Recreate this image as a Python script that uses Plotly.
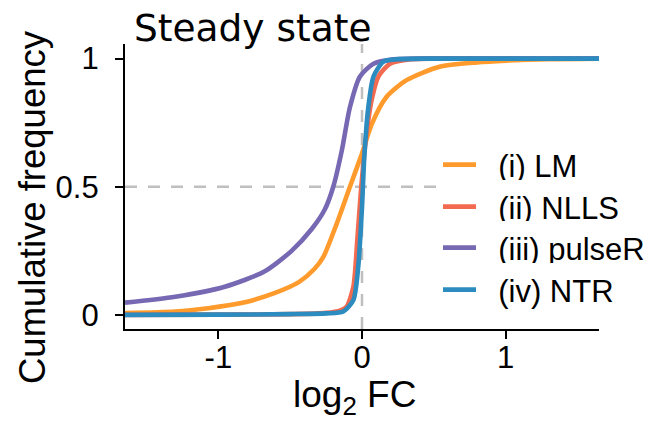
import plotly.graph_objects as go

# ---- data ----
series_names = ["(i) LM", "(ii) NLLS", "(iii) pulseR", "(iv) NTR"]
series_colors = ["#FE9B2C", "#F26A4F", "#7668B2", "#2C8BBF"]

x_lm = [-1.65, -1.3, -1.07, -0.84, -0.61, -0.44, -0.33, -0.27, -0.18, -0.084, 0.0, 0.07, 0.17, 0.31, 0.54, 0.8, 1.0, 1.3, 1.65]
y_lm = [0.007, 0.013, 0.026, 0.046, 0.085, 0.128, 0.18, 0.225, 0.35, 0.5, 0.63, 0.747, 0.85, 0.916, 0.968, 0.985, 0.992, 0.998, 1.0]

x_nlls = [-1.65, -1.0, -0.5, -0.25, -0.15, -0.107, -0.06, -0.033, -0.005, 0.03, 0.067, 0.114, 0.195, 0.34, 0.6, 1.65]
y_nlls = [0.0, 0.001, 0.003, 0.008, 0.018, 0.032, 0.11, 0.29, 0.5, 0.70, 0.838, 0.93, 0.98, 0.998, 1.0, 1.0]

x_pr = [-1.65, -1.3, -0.955, -0.68, -0.49, -0.35, -0.26, -0.2, -0.14, -0.084, -0.014, 0.08, 0.22, 0.5, 1.65]
y_pr = [0.048, 0.071, 0.11, 0.169, 0.25, 0.335, 0.41, 0.5, 0.643, 0.81, 0.93, 0.98, 0.997, 1.0, 1.0]

x_ntr = [-1.65, -1.0, -0.5, -0.25, -0.13, -0.06, -0.026, 0.0, 0.016, 0.044, 0.08, 0.15, 0.26, 0.5, 1.65]
y_ntr = [0.0, 0.001, 0.003, 0.006, 0.013, 0.058, 0.19, 0.42, 0.617, 0.81, 0.93, 0.988, 0.998, 1.0, 1.0]

x_tickvals = [-1, 0, 1]
x_ticktext = ["-1", "0", "1"]
y_tickvals = [0, 0.5, 1]
y_ticktext = ["0", "0.5", "1"]

title_text = "Steady state"
x_title = "log<sub>2</sub> FC"
y_title = "Cumulative frequency"

x_range = [-1.65, 1.65]
y_range = [-0.055, 1.057]

FONT = "Liberation Sans, Arial, sans-serif"

# plot area in pixels
L, R, T, B = 125, 599, 44, 329
PW, PH = R - L, B - T

fig = go.Figure()
all_x = [x_lm, x_nlls, x_pr, x_ntr]
all_y = [y_lm, y_nlls, y_pr, y_ntr]
legend_ids = ["legend", "legend2", "legend3", "legend4"]
legend_centers = [165, 207, 248, 290]  # px from top
PAD = "\u00a0\u00a0"  # visual gap between legend line and label

for name, col, xs, ys, lid in zip(series_names, series_colors, all_x, all_y, legend_ids):
    fig.add_trace(go.Scatter(
        x=xs, y=ys, mode="lines", name=PAD + name,
        line=dict(color=col, width=4.6, shape="spline", smoothing=0.7),
        legend=lid,
    ))

# reference dashed lines
fig.add_shape(type="line", xref="x", yref="y", x0=0, x1=0, y0=y_range[0], y1=y_range[1],
              line=dict(color="#BFBFBF", width=2.5, dash="12px,11px"), layer="below")
fig.add_shape(type="line", xref="x", yref="y", x0=x_range[0], x1=x_range[1], y0=0.5, y1=0.5,
              line=dict(color="#BFBFBF", width=2.5, dash="12px,11px"), layer="below")

legend_layout = {}
for lid, cy in zip(legend_ids, legend_centers):
    legend_layout[lid] = dict(
        x=(438 - L) / PW, xanchor="left", y=(B - cy) / PH, yanchor="middle",
        bgcolor="white", borderwidth=0, font=dict(family=FONT, size=31, color="black"),
        itemwidth=33,
    )

fig.update_layout(
    width=654, height=421,
    margin=dict(l=L, r=654 - R, t=T, b=421 - B, autoexpand=False),
    paper_bgcolor="white", plot_bgcolor="white",
    font=dict(family=FONT, color="black", size=30),
    title=dict(text=title_text, font=dict(family="DejaVu Sans", size=37.5, color="black"),
               x=134 / 654, xanchor="left", xref="container",
               y=1 - 28 / 421, yanchor="middle", yref="container"),
    showlegend=True,
    xaxis=dict(range=x_range, tickvals=x_tickvals, ticktext=x_ticktext,
               showgrid=False, zeroline=False, showline=True, linecolor="black", linewidth=2.2,
               ticks="outside", ticklen=8, tickwidth=2.2, tickcolor="black",
               tickfont=dict(family=FONT, size=31), ticklabelstandoff=-8),
    yaxis=dict(range=y_range, tickvals=y_tickvals, ticktext=y_ticktext,
               showgrid=False, zeroline=False, showline=True, linecolor="black", linewidth=2.2,
               ticks="outside", ticklen=8, tickwidth=2.2, tickcolor="black",
               tickfont=dict(family=FONT, size=31), ticklabelstandoff=10),
    annotations=[
        dict(text=x_title, xref="paper", yref="paper", x=(354 - L) / PW, y=(B - 397) / PH,
             xanchor="center", yanchor="middle", showarrow=False,
             font=dict(family=FONT, size=37, color="black")),
        dict(text=y_title, xref="paper", yref="paper", x=(32 - L) / PW, y=(B - 207) / PH,
             xanchor="center", yanchor="middle", showarrow=False, textangle=-90,
             font=dict(family=FONT, size=36.5, color="black")),
    ],
    **legend_layout,
)

fig.write_html("out.html")
